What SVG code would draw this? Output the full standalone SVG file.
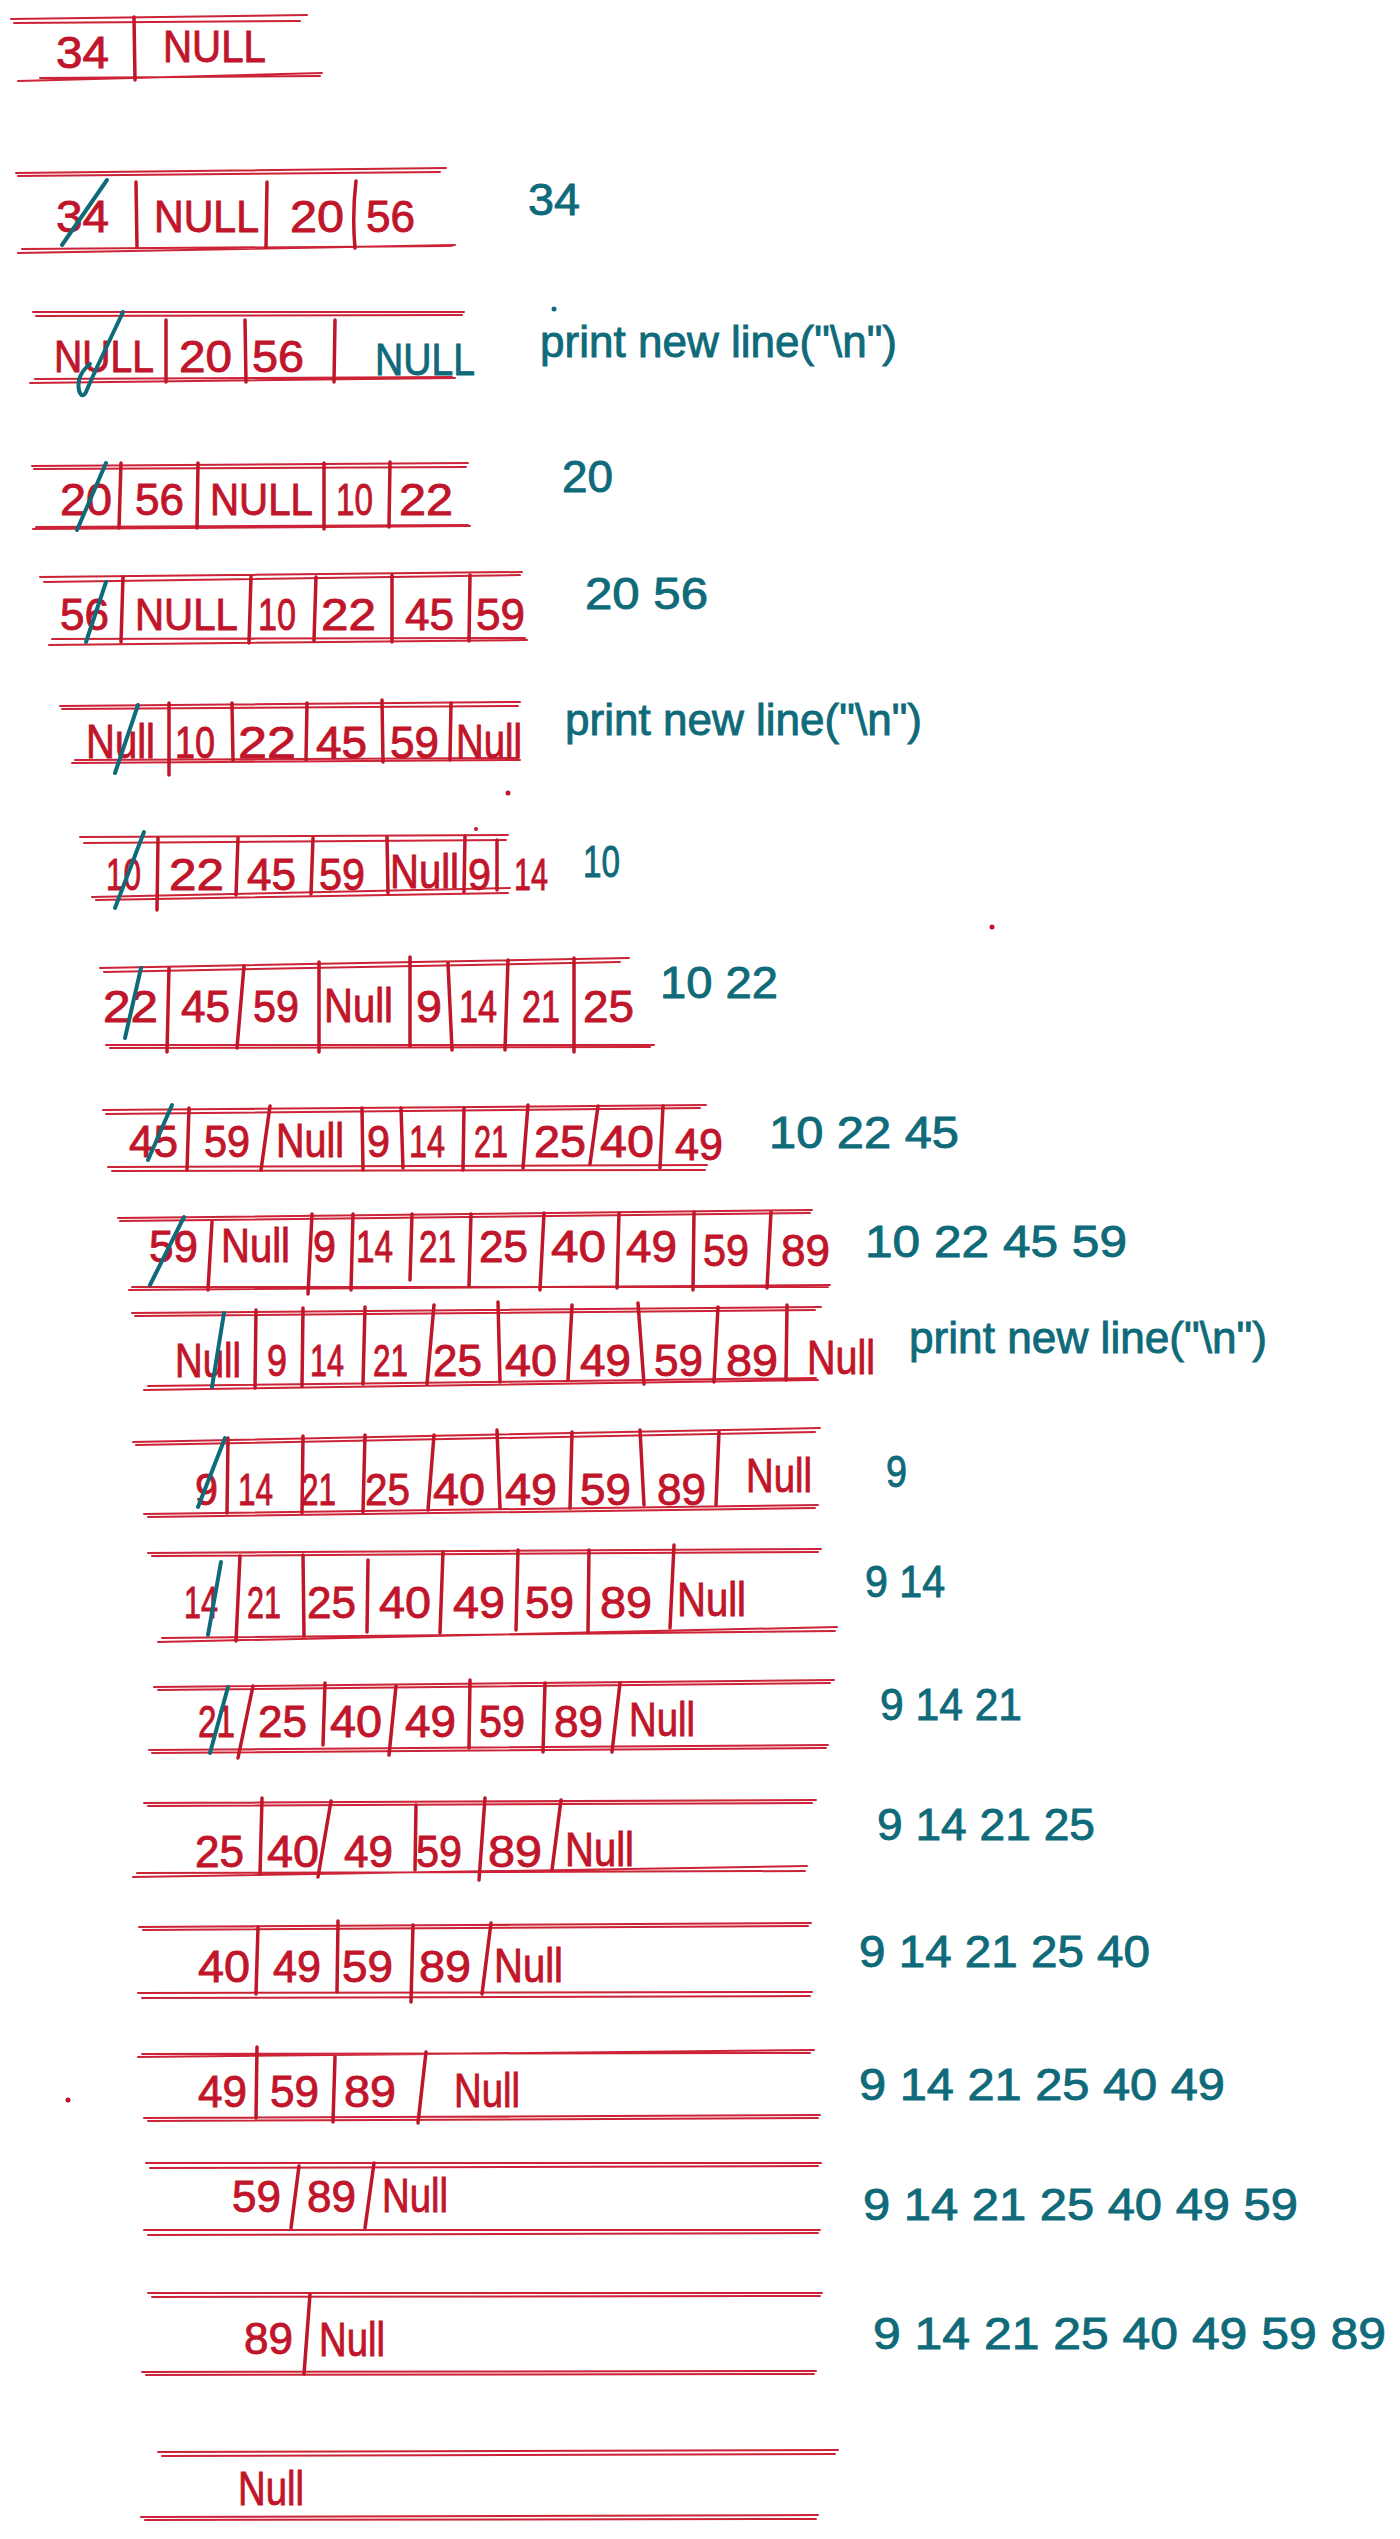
<svg xmlns="http://www.w3.org/2000/svg" width="1400" height="2539" viewBox="0 0 1400 2539">
<style>
.l{fill:none;stroke:#cc2336;stroke-width:2;stroke-linecap:round}
.d{fill:none;stroke:#bf1629;stroke-width:3.5;stroke-linecap:round}
.s{fill:none;stroke:#0f6a7a;stroke-width:4;stroke-linecap:round}
.r{fill:#c0152a;stroke:#c0152a;stroke-width:0.9;font-family:"Liberation Sans",Arial,sans-serif;font-size:44px}
.n{fill:#c0152a;stroke:#c0152a;stroke-width:0.9;font-family:"Liberation Sans",Arial,sans-serif;font-size:48px}
.t{fill:#0f6a7a;stroke:#0f6a7a;stroke-width:0.9;font-family:"Liberation Sans",Arial,sans-serif;font-size:44px}
</style>
<rect width="1400" height="2539" fill="#ffffff"/>
<g id="connectors"></g>

<g id="row1">
<path class="l" d="M11 19 L307 15 M14 23 L300 21 M18 81 L322 73 M40 78 L320 76"/>
<path class="d" d="M134 17 L135 80"/>
<text class="r" x="56" y="68" textLength="53" lengthAdjust="spacingAndGlyphs">34</text>
<text class="r" x="163" y="62" textLength="103" lengthAdjust="spacingAndGlyphs">NULL</text>
</g>

<g id="row2">
<path class="l" d="M16 173 L446 168 M18 176 L440 172 M18 253 L455 245 M22 249 L452 246"/>
<path class="d" d="M136 182 L137 247 M267 182 L266 247 M356 181 Q352 215 355 248"/>
<text class="r" x="56" y="232" textLength="53" lengthAdjust="spacingAndGlyphs">34</text>
<text class="r" x="154" y="232" textLength="105" lengthAdjust="spacingAndGlyphs">NULL</text>
<text class="r" x="290" y="232" textLength="54" lengthAdjust="spacingAndGlyphs">20</text>
<text class="r" x="366" y="232" textLength="49" lengthAdjust="spacingAndGlyphs">56</text>
<path class="s" d="M107 180 L62 245"/>
<text class="t" x="528" y="215" textLength="52" lengthAdjust="spacingAndGlyphs">34</text>
</g>

<g id="row3">
<path class="l" d="M33 312 L464 312 M36 316 L462 315 M30 383 L455 378 M35 379 L452 377"/>
<path class="d" d="M166 320 L166 382 M245 320 L246 382 M335 320 L334 382"/>
<text class="r" x="54" y="372" textLength="100" lengthAdjust="spacingAndGlyphs">NULL</text>
<text class="r" x="179" y="372" textLength="53" lengthAdjust="spacingAndGlyphs">20</text>
<text class="r" x="252" y="372" textLength="52" lengthAdjust="spacingAndGlyphs">56</text>
<text class="t" x="375" y="375" textLength="100" lengthAdjust="spacingAndGlyphs">NULL</text>
<path class="s" d="M123 312 C110 340 96 368 86 392 C82 400 77 392 79 380 C81 372 85 368 90 364"/>
<circle cx="554" cy="309" r="2.5" fill="#0f6a7a"/>
<text class="t" x="540" y="357" textLength="357" lengthAdjust="spacingAndGlyphs">print new line("\n")</text>
</g>

<g id="row4">
<path class="l" d="M32 466 L468 463 M34 469 L466 467 M33 529 L470 526 M36 527 L468 525"/>
<path class="d" d="M121 463 L119 528 M198 463 L197 528 M324 463 L324 529 M390 462 L389 527"/>
<text class="r" x="60" y="515" textLength="52" lengthAdjust="spacingAndGlyphs">20</text>
<text class="r" x="135" y="515" textLength="49" lengthAdjust="spacingAndGlyphs">56</text>
<text class="r" x="210" y="515" textLength="103" lengthAdjust="spacingAndGlyphs">NULL</text>
<text class="r" x="336" y="515" textLength="37" lengthAdjust="spacingAndGlyphs">10</text>
<text class="r" x="399" y="515" textLength="54" lengthAdjust="spacingAndGlyphs">22</text>
<path class="s" d="M106 463 L77 530"/>
<text class="t" x="562" y="492" textLength="51" lengthAdjust="spacingAndGlyphs">20</text>
</g>

<g id="row5">
<path class="l" d="M40 577 L522 572 M44 582 L520 575 M49 645 L527 640 M52 639 L525 638"/>
<path class="d" d="M123 577 L121 642 M251 577 L249 643 M316 577 L314 641 M392 575 L392 642 M470 575 L469 641"/>
<text class="r" x="60" y="630" textLength="49" lengthAdjust="spacingAndGlyphs">56</text>
<text class="r" x="135" y="630" textLength="103" lengthAdjust="spacingAndGlyphs">NULL</text>
<text class="r" x="258" y="630" textLength="38" lengthAdjust="spacingAndGlyphs">10</text>
<text class="r" x="321" y="630" textLength="55" lengthAdjust="spacingAndGlyphs">22</text>
<text class="r" x="405" y="630" textLength="49" lengthAdjust="spacingAndGlyphs">45</text>
<text class="r" x="476" y="630" textLength="49" lengthAdjust="spacingAndGlyphs">59</text>
<path class="s" d="M106 582 L86 642"/>
<text class="t" x="585" y="609" textLength="123" lengthAdjust="spacingAndGlyphs">20 56</text>
</g>

<g id="row6">
<path class="l" d="M60 706 L520 702 M62 709 L518 706 M72 763 L520 760 M75 760 L518 758"/>
<path class="d" d="M169 703 L169 775 M232 703 L233 760 M307 703 L306 760 M382 700 L383 762 M451 703 L450 760"/>
<text class="n" x="86" y="758" textLength="69" lengthAdjust="spacingAndGlyphs">Null</text>
<text class="r" x="175" y="758" textLength="40" lengthAdjust="spacingAndGlyphs">10</text>
<text class="r" x="238" y="758" textLength="58" lengthAdjust="spacingAndGlyphs">22</text>
<text class="r" x="316" y="758" textLength="51" lengthAdjust="spacingAndGlyphs">45</text>
<text class="r" x="390" y="758" textLength="49" lengthAdjust="spacingAndGlyphs">59</text>
<text class="n" x="456" y="758" textLength="66" lengthAdjust="spacingAndGlyphs">Null</text>
<path class="s" d="M138 705 L115 773"/>
<circle cx="508" cy="793" r="2.5" fill="#c0152a"/>
<text class="t" x="565" y="735" textLength="357" lengthAdjust="spacingAndGlyphs">print new line("\n")</text>
</g>

<g id="row7">
<path class="l" d="M80 837 L508 835 M84 843 L506 840 M92 897 L510 888 M96 900 L508 893"/>
<path class="d" d="M158 838 L157 910 M238 838 L236 895 M313 838 L311 894 M387 837 L388 893 M465 836 L464 892 M497 840 L497 890"/>
<text class="r" x="106" y="890" textLength="35" lengthAdjust="spacingAndGlyphs">10</text>
<text class="r" x="169" y="890" textLength="55" lengthAdjust="spacingAndGlyphs">22</text>
<text class="r" x="247" y="890" textLength="49" lengthAdjust="spacingAndGlyphs">45</text>
<text class="r" x="319" y="890" textLength="46" lengthAdjust="spacingAndGlyphs">59</text>
<text class="n" x="390" y="888" textLength="69" lengthAdjust="spacingAndGlyphs">Null</text>
<text class="r" x="468" y="890" textLength="23" lengthAdjust="spacingAndGlyphs">9</text>
<text class="r" x="514" y="890" textLength="34" lengthAdjust="spacingAndGlyphs">14</text>
<circle cx="476" cy="829" r="2" fill="#c0152a"/>
<path class="s" d="M144 832 L115 908"/>
<text class="t" x="583" y="877" textLength="37" lengthAdjust="spacingAndGlyphs">10</text>
<circle cx="992" cy="927" r="2.5" fill="#c0152a"/>
</g>

<g id="row8">
<path class="l" d="M100 968 L629 958 M104 972 L620 962 M106 1045 L654 1045 M110 1048 L650 1047"/>
<path class="d" d="M169 968 L167 1052 M244 966 L237 1048 M319 962 L319 1052 M410 957 L410 1046 M448 963 L452 1050 M508 960 L505 1050 M574 958 L574 1052"/>
<text class="r" x="103" y="1022" textLength="55" lengthAdjust="spacingAndGlyphs">22</text>
<text class="r" x="181" y="1022" textLength="49" lengthAdjust="spacingAndGlyphs">45</text>
<text class="r" x="253" y="1022" textLength="46" lengthAdjust="spacingAndGlyphs">59</text>
<text class="n" x="324" y="1022" textLength="69" lengthAdjust="spacingAndGlyphs">Null</text>
<text class="r" x="416" y="1022" textLength="26" lengthAdjust="spacingAndGlyphs">9</text>
<text class="r" x="459" y="1022" textLength="38" lengthAdjust="spacingAndGlyphs">14</text>
<text class="r" x="522" y="1022" textLength="38" lengthAdjust="spacingAndGlyphs">21</text>
<text class="r" x="583" y="1022" textLength="51" lengthAdjust="spacingAndGlyphs">25</text>
<path class="s" d="M141 968 L125 1038"/>
<text class="t" x="660" y="998" textLength="118" lengthAdjust="spacingAndGlyphs">10 22</text>
</g>

<g id="row9">
<path class="l" d="M103 1110 L706 1105 M106 1114 L700 1108 M108 1167 L707 1165 M112 1171 L705 1170"/>
<path class="d" d="M189 1108 L187 1170 M270 1106 L261 1170 M362 1108 L363 1170 M401 1108 L403 1168 M464 1108 L463 1170 M528 1105 L523 1168 M598 1106 L590 1164 M663 1106 L660 1168"/>
<text class="r" x="129" y="1157" textLength="49" lengthAdjust="spacingAndGlyphs">45</text>
<text class="r" x="204" y="1157" textLength="46" lengthAdjust="spacingAndGlyphs">59</text>
<text class="n" x="276" y="1157" textLength="68" lengthAdjust="spacingAndGlyphs">Null</text>
<text class="r" x="367" y="1157" textLength="23" lengthAdjust="spacingAndGlyphs">9</text>
<text class="r" x="409" y="1157" textLength="36" lengthAdjust="spacingAndGlyphs">14</text>
<text class="r" x="474" y="1157" textLength="34" lengthAdjust="spacingAndGlyphs">21</text>
<text class="r" x="534" y="1157" textLength="52" lengthAdjust="spacingAndGlyphs">25</text>
<text class="r" x="600" y="1157" textLength="54" lengthAdjust="spacingAndGlyphs">40</text>
<text class="r" x="675" y="1160" textLength="48" lengthAdjust="spacingAndGlyphs">49</text>
<path class="s" d="M172 1105 L148 1160"/>
<text class="t" x="769" y="1148" textLength="190" lengthAdjust="spacingAndGlyphs">10 22 45</text>
</g>

<g id="row10">
<path class="l" d="M118 1218 L812 1210 M120 1221 L810 1213 M129 1290 L830 1285 M132 1287 L828 1287"/>
<path class="d" d="M212 1222 L208 1290 M312 1214 L308 1294 M353 1214 L351 1290 M412 1214 L410 1280 M471 1214 L469 1286 M544 1213 L540 1290 M619 1213 L617 1288 M694 1212 L693 1290 M771 1212 L767 1288"/>
<text class="r" x="149" y="1262" textLength="49" lengthAdjust="spacingAndGlyphs">59</text>
<text class="n" x="221" y="1262" textLength="69" lengthAdjust="spacingAndGlyphs">Null</text>
<text class="r" x="313" y="1262" textLength="23" lengthAdjust="spacingAndGlyphs">9</text>
<text class="r" x="356" y="1262" textLength="37" lengthAdjust="spacingAndGlyphs">14</text>
<text class="r" x="419" y="1262" textLength="37" lengthAdjust="spacingAndGlyphs">21</text>
<text class="r" x="479" y="1262" textLength="49" lengthAdjust="spacingAndGlyphs">25</text>
<text class="r" x="551" y="1262" textLength="55" lengthAdjust="spacingAndGlyphs">40</text>
<text class="r" x="626" y="1262" textLength="51" lengthAdjust="spacingAndGlyphs">49</text>
<text class="r" x="703" y="1266" textLength="46" lengthAdjust="spacingAndGlyphs">59</text>
<text class="r" x="781" y="1266" textLength="49" lengthAdjust="spacingAndGlyphs">89</text>
<path class="s" d="M184 1217 L150 1285"/>
<text class="t" x="865" y="1257" textLength="262" lengthAdjust="spacingAndGlyphs">10 22 45 59</text>
</g>

<g id="row11">
<path class="l" d="M132 1313 L821 1307 M135 1316 L815 1310 M144 1390 L818 1380 M148 1386 L816 1378"/>
<path class="d" d="M256 1310 L255 1388 M303 1308 L302 1386 M365 1307 L363 1384 M434 1305 L427 1384 M498 1302 L500 1382 M572 1305 L568 1380 M638 1303 L644 1384 M718 1307 L714 1382 M787 1305 L786 1380"/>
<text class="n" x="175" y="1377" textLength="66" lengthAdjust="spacingAndGlyphs">Null</text>
<text class="r" x="267" y="1376" textLength="20" lengthAdjust="spacingAndGlyphs">9</text>
<text class="r" x="310" y="1376" textLength="34" lengthAdjust="spacingAndGlyphs">14</text>
<text class="r" x="373" y="1376" textLength="35" lengthAdjust="spacingAndGlyphs">21</text>
<text class="r" x="433" y="1376" textLength="49" lengthAdjust="spacingAndGlyphs">25</text>
<text class="r" x="505" y="1376" textLength="52" lengthAdjust="spacingAndGlyphs">40</text>
<text class="r" x="580" y="1376" textLength="51" lengthAdjust="spacingAndGlyphs">49</text>
<text class="r" x="654" y="1376" textLength="49" lengthAdjust="spacingAndGlyphs">59</text>
<text class="r" x="726" y="1376" textLength="52" lengthAdjust="spacingAndGlyphs">89</text>
<text class="n" x="807" y="1374" textLength="68" lengthAdjust="spacingAndGlyphs">Null</text>
<path class="s" d="M224 1313 L212 1387"/>
<text class="t" x="909" y="1353" textLength="358" lengthAdjust="spacingAndGlyphs">print new line("\n")</text>
</g>

<g id="row12">
<path class="l" d="M133 1442 L820 1428 M136 1445 L815 1432 M144 1514 L818 1505 M148 1517 L815 1508"/>
<path class="d" d="M228 1438 L227 1513 M303 1436 L302 1513 M365 1435 L363 1512 M434 1435 L428 1510 M497 1430 L500 1508 M572 1432 L570 1508 M640 1430 L644 1505 M719 1432 L716 1505"/>
<text class="r" x="195" y="1505" textLength="23" lengthAdjust="spacingAndGlyphs">9</text>
<text class="r" x="238" y="1505" textLength="35" lengthAdjust="spacingAndGlyphs">14</text>
<text class="r" x="301" y="1505" textLength="35" lengthAdjust="spacingAndGlyphs">21</text>
<text class="r" x="365" y="1505" textLength="45" lengthAdjust="spacingAndGlyphs">25</text>
<text class="r" x="433" y="1505" textLength="52" lengthAdjust="spacingAndGlyphs">40</text>
<text class="r" x="505" y="1505" textLength="52" lengthAdjust="spacingAndGlyphs">49</text>
<text class="r" x="580" y="1505" textLength="51" lengthAdjust="spacingAndGlyphs">59</text>
<text class="r" x="657" y="1505" textLength="49" lengthAdjust="spacingAndGlyphs">89</text>
<text class="n" x="746" y="1492" textLength="66" lengthAdjust="spacingAndGlyphs">Null</text>
<path class="s" d="M225 1438 L198 1507"/>
<text class="t" x="886" y="1487" textLength="21" lengthAdjust="spacingAndGlyphs">9</text>
</g>

<g id="row13">
<path class="l" d="M148 1553 L821 1549 M152 1556 L818 1552 M158 1642 L837 1627 M162 1638 L835 1631"/>
<path class="d" d="M240 1556 L236 1641 M303 1555 L304 1636 M368 1560 L367 1632 M443 1552 L440 1633 M518 1550 L516 1630 M589 1550 L588 1632 M674 1545 L670 1628"/>
<text class="r" x="184" y="1618" textLength="34" lengthAdjust="spacingAndGlyphs">14</text>
<text class="r" x="247" y="1618" textLength="34" lengthAdjust="spacingAndGlyphs">21</text>
<text class="r" x="307" y="1618" textLength="49" lengthAdjust="spacingAndGlyphs">25</text>
<text class="r" x="379" y="1618" textLength="52" lengthAdjust="spacingAndGlyphs">40</text>
<text class="r" x="453" y="1618" textLength="52" lengthAdjust="spacingAndGlyphs">49</text>
<text class="r" x="525" y="1618" textLength="49" lengthAdjust="spacingAndGlyphs">59</text>
<text class="r" x="600" y="1618" textLength="52" lengthAdjust="spacingAndGlyphs">89</text>
<text class="n" x="677" y="1616" textLength="69" lengthAdjust="spacingAndGlyphs">Null</text>
<path class="s" d="M221 1562 L208 1635"/>
<text class="t" x="865" y="1597" textLength="80" lengthAdjust="spacingAndGlyphs">9 14</text>
</g>

<g id="row14">
<path class="l" d="M154 1687 L834 1680 M158 1690 L830 1683 M149 1750 L828 1745 M152 1753 L826 1748"/>
<path class="d" d="M253 1686 L238 1758 M325 1683 L323 1745 M396 1686 L389 1755 M470 1680 L469 1748 M545 1683 L543 1752 M620 1683 L612 1752"/>
<text class="r" x="198" y="1737" textLength="37" lengthAdjust="spacingAndGlyphs">21</text>
<text class="r" x="258" y="1737" textLength="49" lengthAdjust="spacingAndGlyphs">25</text>
<text class="r" x="330" y="1737" textLength="52" lengthAdjust="spacingAndGlyphs">40</text>
<text class="r" x="405" y="1737" textLength="51" lengthAdjust="spacingAndGlyphs">49</text>
<text class="r" x="479" y="1737" textLength="46" lengthAdjust="spacingAndGlyphs">59</text>
<text class="r" x="554" y="1737" textLength="49" lengthAdjust="spacingAndGlyphs">89</text>
<text class="n" x="629" y="1736" textLength="66" lengthAdjust="spacingAndGlyphs">Null</text>
<path class="s" d="M228 1687 L210 1753"/>
<text class="t" x="880" y="1720" textLength="142" lengthAdjust="spacingAndGlyphs">9 14 21</text>
</g>

<g id="row15">
<path class="l" d="M144 1803 L816 1800 M148 1806 L812 1803 M133 1877 L807 1866 M137 1873 L805 1871"/>
<path class="d" d="M262 1798 L260 1874 M331 1801 L318 1877 M416 1805 L415 1870 M485 1798 L479 1880 M561 1800 L552 1870"/>
<text class="r" x="195" y="1867" textLength="49" lengthAdjust="spacingAndGlyphs">25</text>
<text class="r" x="267" y="1867" textLength="52" lengthAdjust="spacingAndGlyphs">40</text>
<text class="r" x="344" y="1867" textLength="49" lengthAdjust="spacingAndGlyphs">49</text>
<text class="r" x="416" y="1867" textLength="46" lengthAdjust="spacingAndGlyphs">59</text>
<text class="r" x="488" y="1867" textLength="54" lengthAdjust="spacingAndGlyphs">89</text>
<text class="n" x="565" y="1866" textLength="69" lengthAdjust="spacingAndGlyphs">Null</text>
<text class="t" x="877" y="1840" textLength="218" lengthAdjust="spacingAndGlyphs">9 14 21 25</text>
</g>

<g id="row16">
<path class="l" d="M139 1927 L811 1923 M143 1930 L808 1926 M138 1993 L812 1992 M142 1998 L810 1996"/>
<path class="d" d="M258 1927 L256 1994 M338 1921 L337 1992 M413 1925 L411 2002 M491 1923 L482 1994"/>
<text class="r" x="198" y="1982" textLength="52" lengthAdjust="spacingAndGlyphs">40</text>
<text class="r" x="273" y="1982" textLength="48" lengthAdjust="spacingAndGlyphs">49</text>
<text class="r" x="342" y="1982" textLength="51" lengthAdjust="spacingAndGlyphs">59</text>
<text class="r" x="419" y="1982" textLength="52" lengthAdjust="spacingAndGlyphs">89</text>
<text class="n" x="494" y="1982" textLength="69" lengthAdjust="spacingAndGlyphs">Null</text>
<text class="t" x="859" y="1967" textLength="291" lengthAdjust="spacingAndGlyphs">9 14 21 25 40</text>
</g>

<g id="row17">
<path class="l" d="M138 2057 L814 2050 M142 2054 L810 2053 M144 2118 L820 2115 M148 2121 L818 2118"/>
<path class="d" d="M257 2047 L256 2118 M335 2057 L333 2122 M426 2052 L418 2123"/>
<text class="r" x="198" y="2107" textLength="49" lengthAdjust="spacingAndGlyphs">49</text>
<text class="r" x="270" y="2107" textLength="49" lengthAdjust="spacingAndGlyphs">59</text>
<text class="r" x="344" y="2107" textLength="52" lengthAdjust="spacingAndGlyphs">89</text>
<text class="n" x="454" y="2107" textLength="66" lengthAdjust="spacingAndGlyphs">Null</text>
<circle cx="68" cy="2100" r="2.5" fill="#c0152a"/>
<text class="t" x="859" y="2100" textLength="366" lengthAdjust="spacingAndGlyphs">9 14 21 25 40 49</text>
</g>

<g id="row18">
<path class="l" d="M146 2163 L821 2163 M150 2168 L818 2166 M144 2230 L820 2230 M148 2235 L818 2233"/>
<path class="d" d="M299 2166 L291 2228 M374 2163 L365 2228"/>
<text class="r" x="232" y="2212" textLength="49" lengthAdjust="spacingAndGlyphs">59</text>
<text class="r" x="307" y="2212" textLength="49" lengthAdjust="spacingAndGlyphs">89</text>
<text class="n" x="382" y="2212" textLength="66" lengthAdjust="spacingAndGlyphs">Null</text>
<text class="t" x="863" y="2220" textLength="435" lengthAdjust="spacingAndGlyphs">9 14 21 25 40 49 59</text>
</g>

<g id="row19">
<path class="l" d="M148 2293 L822 2293 M152 2297 L820 2296 M142 2372 L816 2371 M146 2375 L814 2374"/>
<path class="d" d="M310 2294 L304 2374"/>
<text class="r" x="244" y="2354" textLength="49" lengthAdjust="spacingAndGlyphs">89</text>
<text class="n" x="319" y="2356" textLength="66" lengthAdjust="spacingAndGlyphs">Null</text>
<text class="t" x="873" y="2349" textLength="513" lengthAdjust="spacingAndGlyphs">9 14 21 25 40 49 59 89</text>
</g>

<g id="row20">
<path class="l" d="M158 2452 L838 2450 M162 2456 L835 2454 M141 2517 L818 2515 M145 2520 L816 2519"/>
<text class="n" x="238" y="2505" textLength="66" lengthAdjust="spacingAndGlyphs">Null</text>
</g>
</svg>
